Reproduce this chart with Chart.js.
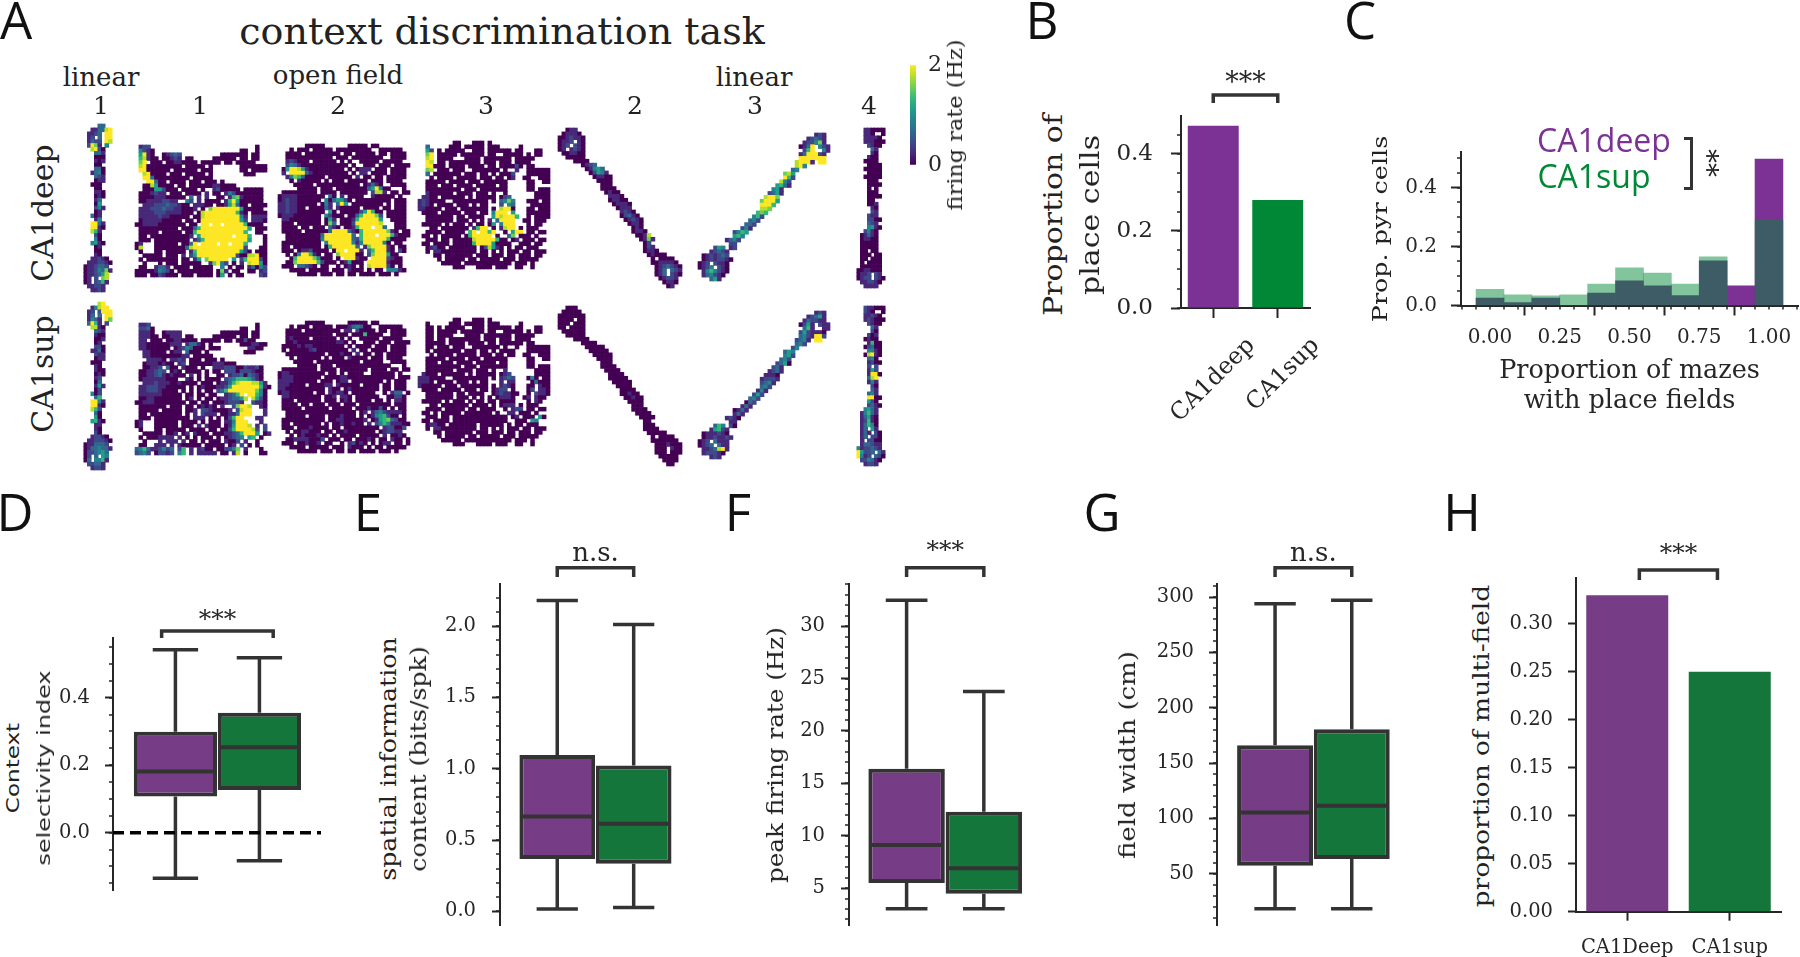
<!DOCTYPE html>
<html>
<head>
<meta charset="utf-8">
<style>
  html, body { margin: 0; padding: 0; background: #fff; width: 1800px; height: 957px; overflow: hidden; }
  canvas { position: absolute; }
  .t { position: absolute; white-space: pre; color: #222; font-family: "DejaVu Serif"; line-height: 1; }
  canvas.rate { filter: blur(0.6px); }
</style>
</head>
<body>
<script src="https://cdn.jsdelivr.net/npm/chart.js"></script>
<script>
// panel B
const groupNames = ['CA1deep', 'CA1sup'];
const placeFraction = [0.4735, 0.2805];
// panel C: histogram per bin
const mazeBins = [0, 0.1, 0.2, 0.3, 0.4, 0.5, 0.6, 0.7, 0.8, 0.9, 1.0];
const mazeDeep = [0.025, 0.01, 0.025, 0, 0.042, 0.084, 0.067, 0.034, 0.152, 0.067, 0.497];
const mazeSup = [0.055, 0.036, 0.033, 0.036, 0.073, 0.128, 0.11, 0.073, 0.165, 0, 0.29];
// panels D-G: low whisker, q1, median, q3, high whisker
const contextDeep = [-0.135, 0.107, 0.181, 0.299, 0.542];
const contextSup = [-0.083, 0.1265, 0.253, 0.3556, 0.5185];
const spatialDeep = [0.017, 0.367, 0.665, 1.097, 2.18];
const spatialSup = [0.028, 0.334, 0.614, 1.022, 2.012];
const peakDeep = [3.03, 5.48, 9.1, 16.38, 32.48];
const peakSup = [3.03, 4.46, 6.9, 12.28, 23.76];
const widthDeep = [18.4, 57.2, 105.4, 166, 294];
const widthSup = [18.4, 63.3, 111.4, 180.6, 297];
// panel H
const multiNames = ['CA1Deep', 'CA1sup'];
const multiFraction = [0.3296, 0.25];
// tick labels
const bTicks = [0, 0.2, 0.4];
const cTicksY = [0, 0.2, 0.4];
const cTicksX = [0, 0.25, 0.5, 0.75, 1];
const dTicks = [0, 0.2, 0.4];
const eTicks = [0, 0.5, 1, 1.5, 2];
const fTicks = [5, 10, 15, 20, 25, 30];
const gTicks = [50, 100, 150, 200, 250, 300];
const hTicks = [0, 0.05, 0.1, 0.15, 0.2, 0.25, 0.3];
const cbarTicks = [0, 2];

// rate maps, one character per spatial bin: '.' unvisited, 0-9 firing rate level.
// a row may be "startColumn:levels", several of those separated by commas
const linear1Top = [
"4:33","2:113389","1:1123.99","1:12.3.99","1:1322.98","1:2971.4","2:8920","3:331","3:000","3:101",
"3:00","3:330","2:1340","3:321","3:011","2:000","3:00","3:110","3:010","3:13",
"3:05","3:241","3:01","2:301","3:14","2:9931","2:9910","2:861","3:20","3:40",
"2:4510","3:01","3:00","3:10","2:11210","1:1112210","0:0112332","0:01124371","0:0112358","0:01.2.78",
"0:01.2361","1:11221","2:1121"];
const linear1Bot = [
"4:89","2:14899","1:12.2999","1:13.3.99","1:1431.97","1:3961.2","2:8810","3:321","3:100","3:001",
"3:01","3:220","2:1130","3:211","3:011","2:000","3:10","3:100","3:010","3:12",
"3:03","3:151","3:02","2:402","3:36","2:9941","2:9910","2:862","3:30","3:50",
"2:5610","3:11","3:10","3:20","2:12210","1:1122210","0:0113332","0:01334331","0:0223453","0:02.3.54",
"0:03.4461","1:22331","2:1221"];
const of1Top = [
".122...........................0..",".4210......................00..0..",".5910..01232..........0000000.00..",".68100.00121.00.....000000.00.00..",
".79.000.00110000.00000.00.00000..",".89000000000.00000.0.......0000000",".99000000.000000.000.......00.0000","..890000.000.00000.0........000...",
"..993000000000.00000.............","...99300.0000.000.000.0..........","..00850000.00.000000110000.......","..000552000.0000.0..1200000.00000",
".0001211.000.0000.1.00.1420000000",".000011100000.3.1.1..00.167100000",".0011112211..42.1.0000.1695000000","..111222322100.11100.00158300.0000",
".111222322110001.0.79999999500000",".11112221111000.0899999999610.0000",".1111121100000.00899999999941.1111",".01111100000.00.0999999999952.1110",
"0011110000000.00.99.99.9999960000",".0000000000.000369999999999995.000",".00000.00000.0069999999999996..00.",".00.00000000001.599999999.9996...0",
".000.000000000.136999999999995...0","01...000000.0039.9999.99.9996....0","08...000000003899999999999992...00",".0...00.00000.1699999999999520.000",
"..00000.000.1.25999999999920088900",".0.00000000.00.15.799999.5.2699920","..0...0.000.00000..17942.0.1.89950",".00..1331.0000.00000..4.0.00.13042",
"0000014320.000000000.071.00..00.12","000.0021000.000.0000.05.0.00....21"];
const of1Bot = [
".112...........................0..",".2230......................00..0..",".1110..01111..........0000000.00..",".11100.00111.00.....000000.00.00..",
".11.000.00110000.00000.00.00200..",".11000000111.13310.0.......0001100",".11000000.01243000.000.......1100","..110000.011.3000.0.........000...",
"..110000000011.00000.............","...11110.1121.000.000.0..........","..01110100.12.000000111000.......","..00112.300.1000.0..1112220021120",
".0011232.010.0000.0.00.2220222100",".001123101000.1.0.0..00.122303210",".0111111000..10.0.0000.2346665310","..11121110010000.000.0113689998851",
".112221100000.0.0100011259999999610",".1122210000.0.0.0.00.2369999999740",".11111100000.00.00.00..12369.99640",".00110000000.01.0.00.01123358.8520",
"0011100000000.00.00.00012221..2110",".0000000.000.00.01010.1..27998..10",".00000.00000.001.22100001.2899...1",".00.00000000.0.1.2111.00113999...1",
".000.000000000.111.0.0.02699...11.","01...000000.0000.0.000.114999...1.","01...000000.000.1.1000.0159998.1.2",".0...00.00000.0000.00.0026999982.2",
"..00000.001.01.1000.000112369995.01",".0.0001111.1.0.0.000.0.01234.56.0.","..0...1.111.1.00.0.000.1002.1..0..",".00..111.1.100000.00000.01.2.0.0..",
"3463112423.26.1.1200.002247.1...0.","2342.02212.46.1.11111.00.18.0...00"];
const of2Top = [
".......00000......00000.00.......","...0.000.00000.000000000..000000.","..0000.000000000.00.00000.00.0000","..000000000000.000.00000000..0000",
"..121000.000000.0.0..00000.00000.","..2431000000000000.0..000.000.0000",".0599851000000000.0.0111.000.0000",".1.999931000000000.0.11.0000.0000",
"..1476300000.000000.1.00.00.00000","...0.100000.0.000.00000.000.0000.","....00000.00000000000.01310..0000",".....00000.000.00000000359400...0",
".000000000.0000.0000000.2881.00.00","011110000000.30.1.0000..100000.0.","01211000000.4035520.000000000.000","1121100000.041.395.00000000.0.000",
"1121100.000031.100000.0000.00.000","112110000000.50.00000259600.00000","01110000000.42000.003699972.00000",".1100000000.051.00016999995..0000",
".000.000000.073.00029999998...000",".0000.00.000.310.0016999.993..000",".00000.000000399993106999999710.00","..000000000399999993.6999.99961000",
"..0000000004999999932699999960000",".0000000000.49999994149999940.00",".00.0000000.069999993.17999910.00",".000.01120000.099.9991.3699910.20",
"..0.0499610.00.7999900.27999500..","...06999974000.0.999100.99992100","..0079999962000.015000.999991000.",".000.33210.00..0.010.0.8999920.0.",
"...0000.00000.000.1000.0.00.44410",".....00000.000.00.00.0000.000.0.."];
const of2Bot = [
".......00000......00000.00.......","...0.000.00000.000134300..000000.","..0000.000000000.11.20000.00.0000","..000000000000.000.00060000..0000",
"..010000.000000.0.0..00000.00000.","..0010000000000110.0..000.000.0000",".0000101100000000.0.0000.000.0000",".0.000001200000000.1.00.0000.0000",
"..0000000000.000100.1.00.00.00000","...0.000000.0.000.10000.000.0000.","....00000.00000000000.00000..0000",".....00000.000.00000000000000...0",
".000000000.0000.0000000.0000.00.00","011000000000.00.0.0000..000000.0.","01110000000.000011000000000000.000","1111000000.000.011.00000000.0.000",
"1110000.000011.100000.0000.00.000","110000000000.100.010000000.00.000","011000000.00.10110.000000..0.133.0",".1100000000.001.110.000000..00220",
".000.000000.000.010.0000.00.0.110",".0000.00.000.000.000.00000000.000",".00000.000000.00000.00010020.0.00","..000000000000000000.01.134211110",
"..00000.0000.0001000.0.01456200.0",".00000000000.0011000001.015673200",".00.0000000.0.00100100.1.246411100",".000.00010000.00.000000000.122002",
"..0.0011000.00.0010000000.012211.","...0.01000100.0.0000.00000.1.0010","..0011110002.000.00.00010.00.100.0",".000.001001.00..0.12010.0.011.00.0",
"...0000.00000.000.1000.0.00.00000",".....00000.000.00.00.0000.000.0.."];
const of3Top = [
".........00...000.0..............","..3.....000.00000.000.....0......","..52.0.00000..000.000000.00...00.","..79.00000.000000.00..00000.0.00.",
"..89.0000...0000.0000000.00000...","..98.00.00000000.000.000.0000....","..99000.0000.0000.00.000020.00...","..78.000.000..0000000.0..1..000000",
"..3.0000000.000.00.0.0002...000000","...0.0000.00000.000.00.01..00..000","..00000.0000.000.000000.....00..00","..000.000.0000.00000.00.....00....",
"..000000000.000.0000000.....00.000","..1000000.0000.000.0..0.......0000",".1100.000000.0.00000.023......0000","1210000..000000000.0.3474...000.00",
"1210.0000.000.0.00...2.43....00000","110000.000.0000000.0.8990...00.000",".0000.00000.000.00.4999.5...000000","..0000000.00.0000..5989996..0.0000",
"..0000000.000.0.0.1.39999..00.000.",".00000.0.000.0.00.05.4999...0.00","...00.0000000.1699.0.1899.0.000..","..0000.00000.69.9969..0.599.00.00.",
".00.0.00000.0699999.0..37.000.0.","..000.00.00000899999600.01.000.00.",".00.0000.000006999950000..000.00.","..01200.0000000.028510.0.00.000..",
"..0.11000000000.00.0.0.000.00.000","....00.0000000.000.000.00.000.00..",".....0.00000.00.00000.000.00000...","......00000.000000000000.000.0....",
".........000...0000.000..00..0..."];
const of3Bot = [
".........00...000.0..............","..0.....000.00000.000.....0......","..00.0.00000..000.000000.00...00.","..00.00000.000000.00..00000.0.00.",
"..00.0000...0000.0000000.00000...","..00.00.00000000.000.000.0000....","..00000.0000.0000.00.000000.00...","..00.000.000..0000000.0..0..000000",
"..0.0000000.000.00.0.0000...000000","...0.0000.00000.000.00.00..00..000","..00000.0000.000.000000.....00..00","..000.000.0000.00000.00.....00....",
"..000000000.000.0000000.....00.000","..0000000.0000.000.0..1.......0000",".1000.000000.0.00000.012......0000","1110000..000000000.0.1232...040.00",
"1110.0000.000.0.00...1.11....03000","100000.000.0000000.0.1210...00.100",".0000.00000.000.00.0122.0...02.110","..0000000.00.0000..0121100..0.2110",
"..0000000.000.0.0.0.01110..01.100.",".00000.0.000.0.00.00.0000...0.10","...00.0000000.0000.0.0111.0.000..","..0000.00000.00.0000..0.122.00.00.",
".00.0.00000.0000000.0..11.000.0.","..000.00.00000000000000.01.000.50.",".00.0000.00000000000000..000.54.","..01100.0000000.000000.0.00.000..",
"..0.11000000000.00.0.0.000.00.000","....00.0000000.000.000.00.000.00..",".....0.00000.00.00000.000.00000...","......00000.000000000000.000.0....",
".........000...0000.000..00..0..."];
const linear2Top = [
"2:011","1:01110","0:0012110","0:0112.10","0:012.210","0:01.1210","1:001100","2:00000","4:0000","6:0123",
"7:01453","8:02541","9:01100","10:0000","11:000","11:0000","12:0100","13:1110","13:01100","14:01110",
"15:0111","16:1210","16:02310","17:01210","18:0110","19:010","19:0110","20:0018","21:0171","22:02",
"22:021","22:0110","23:01000","24:0.0000","24:0011110","25:0123210","25:013.321","25:013.210","26:01221","27:0110",
"28:01"];
const linear2Bot = [
"2:000","1:00000","0:0000000","0:0000.00","0:000.000","0:00.0000","1:000000","2:00000","4:0000","6:0000",
"7:00000","8:00000","9:00000","10:0000","11:000","11:0000","12:0000","13:0000","13:00000","14:00000",
"15:0000","16:0000","16:00100","17:00100","18:0000","19:000","19:0000","20:0000","21:0000","22:00",
"22:000","22:0000","23:00000","24:0.0000","24:0000000","25:0001000","25:000.100","25:000.000","26:00000","27:0000",
"28:00"];
const linear3Top = [
"30:121","28:12321","27:122471","26:0139.421","27:269..41","26:1399921","26:9999999","25:89991.99","25:894","24:34",
"22:785","22:962","21:842","20:5631","19:451","18:2351","17:8997","16:79995","16:9996","16:887",
"15:676","14:462","13:342","12:332","11:241","9:2465","9:564","7:1342","8:22","4:254,8:12",
"3:12321","1:0121232","1:01212210","0:012.2110","0:0124.210","1:1464210","1:134210","3:351"];
const linear3Bot = [
"30:121","28:12351","27:132211","26:0251.211","27:361..11","26:2521110","26:3421992","25:2341.99","25:342","24:24",
"22:354","22:452","21:342","20:2350","19:231","18:1231","17:1110","16:12221","16:2341","16:342",
"15:141","14:252","13:342","12:032","11:131","9:0131","9:131","7:1210","8:11","4:364,8:20",
"3:15621","1:0111210","1:01121121","0:012.3111","0:0123.311","1:1123891","1:122210","3:121"];
const linear4Top = [
"2:110000","2:110..0","2:11110","2:111000","3:2100","4:31","4:10","3:100","2:0000","3:0000",
"2:00000","3:0000","2:00000","3:000","3:0000","3:0.0","3:000","3:0000","3:00","3:001",
"4:10","4:21","3:211","3:2200","3:321","3:4510","2:2410","1:01310","1:01100","1:00000",
"1:00000","1:00.00","1:000.00","1:00.000","1:0.0000","1:000000","0:0011000","0:0112.21","0:0122.210","1:112210",
"2:1111"];
const linear4Bot = [
"2:211000","2:210..0","2:11210","2:121000","3:2100","4:31","4:20","3:201","2:0100","3:1600",
"2:02300","3:4410","2:08910","3:340","3:1200","3:2.2","3:152","3:1990","3:389","3:141",
"4:20","4:31","3:341","3:9900","3:520","3:2310","2:4531","1:14631","1:13510","1:12610",
"1:13640","1:13.51","1:131.20","1:13.220","1:1.2200","1:133211","0:4122321","0:95223.31","0:9412.320","1:224310",
"2:1221"];

const viridis = ['#440154', '#482878', '#3e4989', '#31688e', '#26828e', '#1f9e89', '#35b779', '#6ece58', '#b5de2b', '#fde725'];
const ink = '#262626';
const boxInk = '#333333';
const deepSolid = '#7b3294', supSolid = '#008837';
const deepMuted = '#763c85', supMuted = '#15763b';

Chart.defaults.font.family = '"DejaVu Serif"';
Chart.defaults.color = ink;
Chart.defaults.animation = false;
Chart.defaults.responsive = false;
Chart.defaults.plugins.legend.display = false;
Chart.defaults.plugins.tooltip.enabled = false;

// minor ticks and significance brackets, neither has an option in the library
Chart.register({
  id: 'panelExtras',
  afterDraw(chart, args, opts) {
    const ctx = chart.ctx, area = chart.chartArea;
    ctx.save();
    ctx.strokeStyle = ink;
    ctx.lineWidth = 1.5;
    if (opts.minorY) {
      const s = chart.scales.y;
      for (let v = Math.ceil(s.min / opts.minorY) * opts.minorY; v <= s.max; v += opts.minorY) {
        const y = Math.round(s.getPixelForValue(v));
        ctx.beginPath(); ctx.moveTo(area.left - 4, y); ctx.lineTo(area.left, y); ctx.stroke();
      }
    }
    if (opts.minorX) {
      const s = chart.scales.x;
      for (let v = Math.ceil(s.min / opts.minorX) * opts.minorX; v <= s.max; v += opts.minorX) {
        const x = Math.round(s.getPixelForValue(v));
        ctx.beginPath(); ctx.moveTo(x, area.bottom); ctx.lineTo(x, area.bottom + 4); ctx.stroke();
      }
    }
    if (opts.bracket) {
      const b = opts.bracket, top = chart.canvas.offsetTop;
      const x0 = chart.scales.x.getPixelForValue(b.from === undefined ? 0 : b.from);
      const x1 = chart.scales.x.getPixelForValue(b.to === undefined ? 1 : b.to);
      ctx.strokeStyle = boxInk;
      ctx.lineWidth = 3.5;
      ctx.beginPath();
      ctx.moveTo(x0, b.end - top); ctx.lineTo(x0, b.y - top); ctx.lineTo(x1, b.y - top); ctx.lineTo(x1, b.end - top);
      ctx.stroke();
      ctx.fillStyle = ink;
      ctx.font = b.size + 'px "DejaVu Serif"';
      ctx.textAlign = 'center';
      ctx.textBaseline = 'middle';
      ctx.fillText(b.text, (x0 + x1) / 2, b.textY - top);
    }
    ctx.restore();
  }
});

function addCanvas(left, top, width, height, cls) {
  const c = document.createElement('canvas');
  c.width = Math.round(width);
  c.height = Math.round(height);
  c.style.left = left + 'px';
  c.style.top = top + 'px';
  if (cls) c.className = cls;
  document.body.appendChild(c);
  return c;
}

function addText(str, x, y, size, opts) {
  opts = opts || {};
  const d = document.createElement('div');
  d.className = 't';
  d.textContent = str;
  d.style.left = x + 'px';
  d.style.top = y + 'px';
  d.style.fontSize = size + 'px';
  if (opts.family) d.style.fontFamily = opts.family;
  if (opts.color) d.style.color = opts.color;
  d.style.transform = 'translate(-50%,-50%)' + (opts.rotate ? ' rotate(' + opts.rotate + 'deg)' : '') + (opts.stretch ? ' scaleX(' + opts.stretch + ')' : '');
  document.body.appendChild(d);
}

function yAxis(o) {
  return {
    min: o.min, max: o.max,
    border: { display: true, width: 2, color: ink },
    grid: { display: true, drawOnChartArea: false, drawTicks: true, tickLength: o.tick || 8, tickWidth: 2, tickColor: ink },
    ticks: { padding: o.pad, font: { size: o.size }, autoSkip: false, maxRotation: 0, callback: v => v.toFixed(o.dec) },
    afterBuildTicks: s => { s.ticks = o.values.map(v => ({ value: v })); }
  };
}

// plot is the axes rectangle in page pixels
function addPanel(plot, marginB, config) {
  const marginL = 80, marginR = 40;
  const marginT = plot.t - (plot.top || plot.t - 70);
  const c = addCanvas(plot.l - marginL, plot.t - marginT, marginL + plot.r - plot.l + marginR, marginT + plot.b - plot.t + marginB);
  config.options.layout = { padding: { left: 0, right: marginR, top: marginT, bottom: config.options.scales.x.display === false ? marginB : 0 } };
  // labels near the ends must not pull the axis in from its fixed box
  config.options.scales.y.afterFit = s => { s.width = marginL; s.paddingTop = 0; s.paddingBottom = 0; };
  return new Chart(c, config);
}

function boxPanel(stats, plot, xMin, xMax, yOpts, minor, bracket, extra) {
  const whiskers = [], medians = [];
  stats.forEach((st, i) => {
    whiskers.push({ x: i, y: st[0] }, { x: i, y: st[1] }, { x: i, y: null });
    whiskers.push({ x: i, y: st[3] }, { x: i, y: st[4] }, { x: i, y: null });
    whiskers.push({ x: i - 0.27, y: st[0] }, { x: i + 0.27, y: st[0] }, { x: i, y: null });
    whiskers.push({ x: i - 0.27, y: st[4] }, { x: i + 0.27, y: st[4] }, { x: i, y: null });
    medians.push({ x: i - 0.48, y: st[2] }, { x: i + 0.48, y: st[2] }, { x: i, y: null });
  });
  const datasets = [
    { type: 'line', data: medians, borderColor: boxInk, borderWidth: 4, pointRadius: 0, spanGaps: false, order: 1 },
    {
      type: 'bar', data: stats.map((st, i) => ({ x: i, y: [st[1], st[3]] })),
      backgroundColor: [deepMuted, supMuted], borderColor: boxInk, borderWidth: 4, borderSkipped: false,
      barPercentage: 0.99, categoryPercentage: 1, order: 2
    },
    { type: 'line', data: whiskers, borderColor: boxInk, borderWidth: 3.5, pointRadius: 0, spanGaps: false, order: 3 }
  ].concat(extra || []);
  return addPanel(plot, 18, {
    type: 'bar',
    data: { datasets },
    options: {
      scales: {
        // box positions are the only ticks, the bar width is measured from them
        x: {
          type: 'linear', display: false, offset: false, min: xMin, max: xMax,
          afterBuildTicks: s => { s.ticks = stats.map((st, i) => ({ value: i })); }
        },
        y: yAxis(yOpts)
      },
      plugins: { panelExtras: { minorY: minor, bracket } }
    }
  });
}

// rate maps
function addRateMap(rows, left, top) {
  const cell = 4, pts = [], colors = [];
  let cols = 0;
  rows.forEach((row, r) => {
    row.split(',').forEach(seg => {
      const parts = seg.split(':');
      const start = parts.length > 1 ? parseInt(parts[0], 10) : 0;
      const levels = parts[parts.length - 1];
      for (let c = 0; c < levels.length; c++) {
        const level = parseInt(levels[c], 10);
        if (isNaN(level)) continue;
        pts.push({ x: start + c + 0.5, y: r + 0.5 });
        colors.push(viridis[level]);
        cols = Math.max(cols, start + c + 1);
      }
    });
  });
  // a small transparent frame so the slightly oversized bins are not cut at the edge
  const pad = 2;
  const canvas = addCanvas(left - pad, top - pad, cols * cell + 2 * pad, rows.length * cell + 2 * pad, 'rate');
  new Chart(canvas, {
    type: 'scatter',
    data: { datasets: [{ data: pts, pointStyle: 'rect', pointRadius: cell * 0.8, pointBorderWidth: 0, backgroundColor: colors, clip: false }] },
    options: {
      layout: { padding: pad },
      scales: {
        x: { display: false, min: 0, max: cols },
        y: { display: false, min: 0, max: rows.length, reverse: true }
      }
    }
  });
}

addRateMap(linear1Top, 82, 122);
addRateMap(linear1Bot, 82, 300);
addRateMap(of1Top, 133.3, 143);
addRateMap(of1Bot, 133.3, 321);
addRateMap(of2Top, 276, 141.7);
addRateMap(of2Bot, 276, 318.7);
addRateMap(of3Top, 415.7, 139);
addRateMap(of3Bot, 415.7, 316);
addRateMap(linear2Top, 556, 126);
addRateMap(linear2Bot, 556, 304);
addRateMap(linear3Top, 696, 131.3);
addRateMap(linear3Bot, 696, 309.3);
addRateMap(linear4Top, 855, 126);
addRateMap(linear4Bot, 855, 304);

// colour bar
new Chart(addCanvas(900, 40, 60, 150), {
  type: 'bar',
  data: {
    labels: [''],
    datasets: [{
      data: [[cbarTicks[0], cbarTicks[1]]],
      barPercentage: 1, categoryPercentage: 1, borderWidth: 0,
      backgroundColor: ctx => {
        const a = ctx.chart.chartArea;
        if (!a) return viridis[0];
        const g = ctx.chart.ctx.createLinearGradient(0, a.bottom, 0, a.top);
        viridis.forEach((col, i) => g.addColorStop(i / (viridis.length - 1), col));
        return g;
      }
    }]
  },
  options: {
    layout: { padding: { left: 10, top: 16.7, bottom: 17, right: 0 } },
    scales: {
      x: { display: false },
      y: {
        position: 'right', min: 0, max: 2, border: { display: false },
        grid: { display: false, drawTicks: false },
        ticks: { padding: 12, font: { size: 22 }, callback: v => String(v) },
        afterBuildTicks: s => { s.ticks = cbarTicks.map(v => ({ value: v })); },
        afterFit: s => { s.width = 44; }
      }
    }
  }
});

// panel B
addPanel({ l: 1181, r: 1309.5, t: 116, b: 308 }, 132, {
  type: 'bar',
  data: {
    labels: groupNames,
    datasets: [{ data: placeFraction, backgroundColor: [deepSolid, supSolid], barPercentage: 0.79, categoryPercentage: 1 }]
  },
  options: {
    scales: {
      x: {
        border: { display: true, width: 2, color: ink },
        grid: { display: true, offset: false, drawOnChartArea: false, drawTicks: true, tickLength: 10, tickWidth: 2, tickColor: ink },
        ticks: { minRotation: 45, maxRotation: 45, padding: 14, labelOffset: 38, font: { size: 23.5 } },
        afterFit: s => { s.height = 132; }
      },
      y: yAxis({ min: 0, max: 0.4987, values: bTicks, dec: 1, tick: 10, pad: 18, size: 23 })
    },
    plugins: { panelExtras: { minorY: 0.05, bracket: { y: 95, end: 103, text: '***', textY: 84, size: 27 } } }
  }
});

// panel C
addPanel({ l: 1461, r: 1798, t: 152, b: 305 }, 110.5, {
  type: 'bar',
  data: {
    datasets: [
      { data: mazeBins.map((b, i) => ({ x: b, y: mazeSup[i] })), backgroundColor: 'rgba(0,136,55,0.49)', grouped: false, barPercentage: 1, categoryPercentage: 1, order: 1 },
      { data: mazeBins.map((b, i) => ({ x: b, y: mazeDeep[i] })), backgroundColor: deepSolid, grouped: false, barPercentage: 1, categoryPercentage: 1, order: 2 }
    ]
  },
  options: {
    scales: {
      x: {
        type: 'linear', offset: false, min: -0.104, max: 1.104,
        border: { display: true, width: 2, color: ink },
        grid: { display: true, drawOnChartArea: false, drawTicks: true, tickLength: 10, tickWidth: 2, tickColor: ink },
        ticks: { padding: 10, font: { size: 20 }, autoSkip: false, maxRotation: 0, callback: v => v.toFixed(2) },
        afterBuildTicks: s => { s.ticks = cTicksX.map(v => ({ value: v })); },
        afterFit: s => { s.height = 110.5; },
        title: {
          display: true, text: ['Proportion of mazes', 'with place fields'], padding: { top: 0, bottom: 0 },
          font: { size: 25.5, lineHeight: '30px' }
        }
      },
      y: yAxis({ min: 0, max: 0.5213, values: cTicksY, dec: 1, tick: 10, pad: 14, size: 20 })
    },
    plugins: { panelExtras: { minorY: 0.05, minorX: 0.05 } }
  }
});

// panel D
boxPanel([contextDeep, contextSup], { l: 113, r: 321, t: 637.7, b: 890, top: 600 }, -0.743, 1.733,
  { min: -0.17, max: 0.578, values: dTicks, dec: 1, pad: 15, size: 19.5 },
  0.05, { from: -0.164, to: 1.164, y: 631, end: 638, text: '***', textY: 620, size: 25 },
  [{ type: 'line', data: [{ x: -0.743, y: 0 }, { x: 1.733, y: 0 }], borderColor: '#000', borderWidth: 3.5, borderDash: [11, 6], pointRadius: 0, order: 0 }]);

// panel E
boxPanel([spatialDeep, spatialSup], { l: 499.6, r: 680, t: 584.3, b: 925.3, top: 535 }, -0.749, 1.606,
  { min: -0.0953, max: 2.293, values: eTicks, dec: 1, pad: 16, size: 19.5 },
  0.1, { y: 567.7, end: 577, text: 'n.s.', textY: 554, size: 26 });

// panel F
boxPanel([peakDeep, peakSup], { l: 848.8, r: 1030, t: 584.3, b: 925.3, top: 535 }, -0.746, 1.598,
  { min: 1.47, max: 34, values: fTicks, dec: 0, pad: 16, size: 19.5 },
  1, { y: 567.7, end: 577, text: '***', textY: 551, size: 25 });

// panel G
boxPanel([widthDeep, widthSup], { l: 1216.5, r: 1398, t: 584.3, b: 925.3, top: 535 }, -0.757, 1.616,
  { min: 3.7, max: 311.5, values: gTicks, dec: 0, pad: 15, size: 19.5 },
  10, { y: 567.7, end: 577, text: 'n.s.', textY: 554, size: 26 });

// panel H
addPanel({ l: 1576, r: 1780.7, t: 578, b: 911.7, top: 535 }, 45.3, {
  type: 'bar',
  data: {
    labels: multiNames,
    datasets: [{ data: multiFraction, backgroundColor: [deepMuted, supMuted], barPercentage: 0.8, categoryPercentage: 1 }]
  },
  options: {
    scales: {
      x: {
        border: { display: true, width: 2, color: ink },
        grid: { display: true, offset: false, drawOnChartArea: false, drawTicks: true, tickLength: 9, tickWidth: 2, tickColor: ink },
        ticks: { padding: 16, font: { size: 19.5 }, maxRotation: 0 },
        afterFit: s => { s.height = 45.3; }
      },
      y: yAxis({ min: 0, max: 0.3476, values: hTicks, dec: 2, pad: 15, size: 19.5 })
    },
    plugins: { panelExtras: { bracket: { from: 0.118, to: 0.88, y: 570, end: 580, text: '***', textY: 554, size: 25 } } }
  }
});

// free text
const letterFont = '"Open Sans"';
[['A', 16, 19], ['B', 1042, 19], ['C', 1360, 19], ['D', 15, 511], ['E', 368, 511], ['F', 738, 511], ['G', 1102, 511], ['H', 1462, 511]]
  .forEach(l => addText(l[0], l[1], l[2], 51, { family: letterFont, color: '#111' }));
addText('context discrimination task', 502, 31, 38);
addText('linear', 101, 77, 26);
addText('open field', 338, 75, 26);
addText('linear', 754, 77, 26);
[['1', 101], ['1', 200], ['2', 338], ['3', 486], ['2', 635], ['3', 755], ['4', 869]]
  .forEach(l => addText(l[0], l[1], 105, 25));
addText('CA1deep', 43, 213, 30, { rotate: -90 });
addText('CA1sup', 43, 374, 30, { rotate: -90 });
addText('firing rate (Hz)', 955, 125, 20, { rotate: -90, stretch: 1.12 });
addText('CA1deep', 1604, 140, 32, { family: letterFont, color: deepSolid });
addText('CA1sup', 1594, 176, 32, { family: letterFont, color: supSolid });
addText('**', 1707, 163, 28, { rotate: 90 });
// y axis titles: rotated labels are wider than their line height in the figure
addText('Proportion of', 1053, 215, 26, { rotate: -90, stretch: 1.155 });
addText('place cells', 1090, 215, 26, { rotate: -90, stretch: 1.155 });
addText('Prop. pyr cells', 1380, 229, 21, { rotate: -90, stretch: 1.21 });
addText('Context', 13, 768, 18, { rotate: -90, stretch: 1.28, family: '"DejaVu Sans"' });
addText('selectivity index', 44, 768, 18, { rotate: -90, stretch: 1.33, family: '"DejaVu Sans"' });
addText('spatial information', 389, 759, 22, { rotate: -90, stretch: 1.15 });
addText('content (bits/spk)', 419, 759, 22, { rotate: -90, stretch: 1.15 });
addText('peak firing rate (Hz)', 776, 755, 22, { rotate: -90, stretch: 1.12 });
addText('field width (cm)', 1128, 755, 22, { rotate: -90, stretch: 1.18 });
addText('proportion of multi-field', 1482, 746, 22, { rotate: -90, stretch: 1.2 });

const sideBracket = document.createElement('div');
sideBracket.style.cssText = 'position:absolute;left:1684px;top:137px;width:6px;height:47px;border:solid #333;border-width:3px 3px 3px 0;';
document.body.appendChild(sideBracket);
</script>
</body>
</html>
